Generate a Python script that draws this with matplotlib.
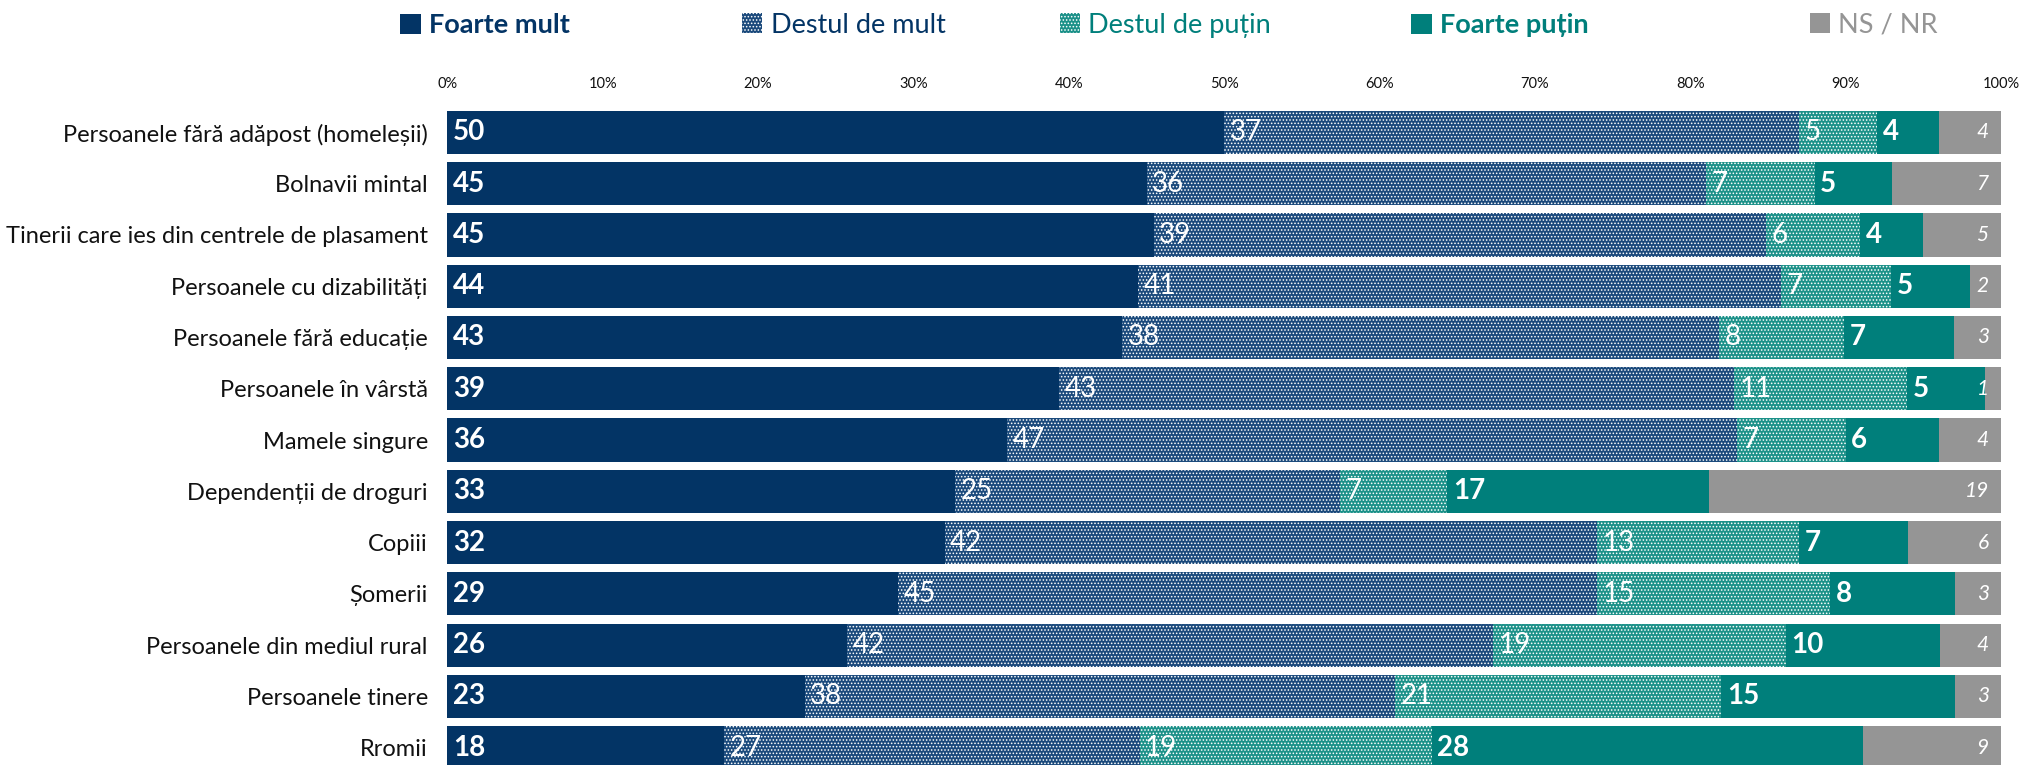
import numpy as np
import matplotlib
import matplotlib.pyplot as plt

matplotlib.rcParams['font.family'] = ['Lato', 'DejaVu Sans']
matplotlib.rcParams['hatch.linewidth'] = 0.7

categories = [
    'Persoanele fără adăpost (homeleșii)',
    'Bolnavii mintal',
    'Tinerii care ies din centrele de plasament',
    'Persoanele cu dizabilități',
    'Persoanele fără educație',
    'Persoanele în vârstă',
    'Mamele singure',
    'Dependenții de droguri',
    'Copiii',
    'Șomerii',
    'Persoanele din mediul rural',
    'Persoanele tinere',
    'Rromii',
]
foarte_mult = [50, 45, 45, 44, 43, 39, 36, 33, 32, 29, 26, 23, 18]
destul_mult = [37, 36, 39, 41, 38, 43, 47, 25, 42, 45, 42, 38, 27]
destul_putin = [5, 7, 6, 7, 8, 11, 7, 7, 13, 15, 19, 21, 19]
foarte_putin = [4, 5, 4, 5, 7, 5, 6, 17, 7, 8, 10, 15, 28]
ns_nr = [4, 7, 5, 2, 3, 1, 4, 19, 6, 3, 4, 3, 9]
series_names = ['Foarte mult', 'Destul de mult', 'Destul de puțin', 'Foarte puțin', 'NS / NR']
xticks = [0, 10, 20, 30, 40, 50, 60, 70, 80, 90, 100]

NAVY = '#033465'
NAVY_DOT = '#1b4a7c'
TEAL = '#007f7b'
TEAL_DOT = '#1c9189'
GREY = '#959595'

fig = plt.figure(figsize=(20.22, 7.65), dpi=100)
ax = fig.add_axes([0.2212, 0.0, 0.7685, 0.855])

y = np.arange(len(categories))
h = 0.84
series = [foarte_mult, destul_mult, destul_putin, foarte_putin, ns_nr]
# rounded values do not always add to 100, the bars are scaled to the full width
totals = np.sum(np.array(series, dtype=float), axis=0)
styles = [
    dict(color=NAVY, hatch=None),
    dict(color=NAVY_DOT, hatch='.....'),
    dict(color=TEAL_DOT, hatch='.....'),
    dict(color=TEAL, hatch=None),
    dict(color=GREY, hatch=None),
]

left = np.zeros(len(categories))
handles = []
for k, (vals, st, name) in enumerate(zip(series, styles, series_names)):
    w = np.array(vals, dtype=float) / totals * 100
    if st['hatch']:
        b = ax.barh(y, w, left=left, height=h, color=st['color'], edgecolor='white',
                    linewidth=0, hatch=st['hatch'], label=name)
    else:
        b = ax.barh(y, w, left=left, height=h, color=st['color'], linewidth=0, label=name)
    handles.append(b)
    for i, v in enumerate(vals):
        if k == 4:
            ax.annotate(str(v), xy=(left[i] + w[i], y[i]), xytext=(-9, 0), textcoords='offset points',
                        ha='right', va='center', color='white', fontsize=15, fontstyle='italic')
        else:
            weight = 'bold' if k in (0, 3) else 'normal'
            ax.annotate(str(v), xy=(left[i], y[i]), xytext=(4, 0), textcoords='offset points',
                        ha='left', va='center', color='white', fontsize=20, fontweight=weight)
    left += w

ax.set_xlim(0, 100)
ax.set_ylim(12.34, -0.42)
ax.set_yticks(y)
ax.set_yticklabels(categories, fontsize=17, color='#111111')
ax.set_xticks(xticks)
ax.set_xticklabels([f'{t}%' for t in xticks], fontsize=10.5, color='#111111')
ax.xaxis.tick_top()
ax.tick_params(axis='both', length=0)
ax.tick_params(axis='x', pad=14)
ax.tick_params(axis='y', pad=14)
for s in ax.spines.values():
    s.set_visible(False)

# legend across the top
leg_x = [0.198, 0.367, 0.524, 0.698, 0.895]
leg_colors = [NAVY, NAVY, TEAL, TEAL, GREY]
leg_weights = ['bold', 'normal', 'normal', 'bold', 'normal']
for hd, name, lx, c, w in zip(handles, series_names, leg_x, leg_colors, leg_weights):
    lg = fig.legend([hd], [name], loc='center left', bbox_to_anchor=(lx, 0.967), frameon=False,
                    handlelength=0.75, handleheight=0.75, handletextpad=0.3, borderpad=0, borderaxespad=0,
                    prop={'size': 19.5, 'weight': w})
    for t in lg.get_texts():
        t.set_color(c)

fig.savefig('out.png', dpi=100)
